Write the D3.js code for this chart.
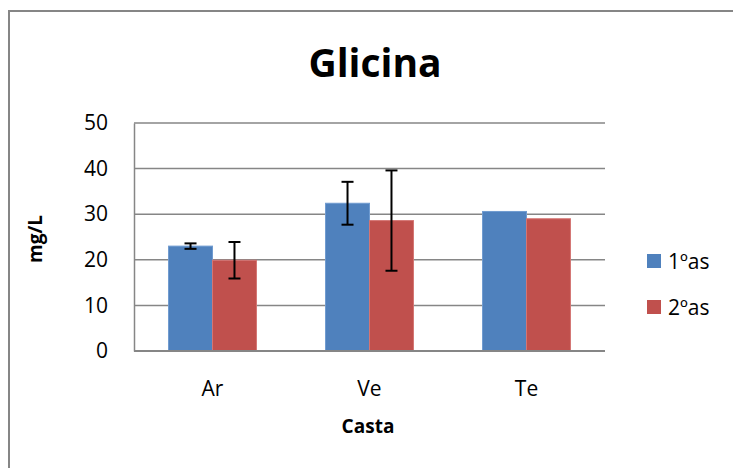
<!DOCTYPE html>
<html><head><meta charset="utf-8">
<script src="https://cdn.jsdelivr.net/npm/d3@7"></script>
<style>body{margin:0;background:#fff}svg{display:block}text{font-family:"Open Sans",sans-serif}</style>
</head><body><svg id="c" width="733" height="468"></svg>
<script>
const categories = ["Ar", "Ve", "Te"];
const seriesNames = ["1ºas", "2ºas"];
const values1 = [23.0, 32.4, 30.6];
const errors1 = [0.6, 4.7, 0];
const values2 = [19.9, 28.6, 29.0];
const errors2 = [4.0, 11.0, 0];
const yTicks = [0, 10, 20, 30, 40, 50];
const colors = ["#4F81BD", "#C0504D"];
const strokes = ["#6F9BD0", "#D47573"];

const svg = d3.select("#c");
svg.append("path").attr("d","M9,468V11H733").attr("fill","none").attr("stroke","#868686").attr("stroke-width",2);

const m = {l:134, r:605, t:123, b:351};
const x = d3.scaleBand().domain(categories).range([m.l, m.r]).paddingInner(0.44).paddingOuter(0.22);
const y = d3.scaleLinear().domain([0,50]).range([m.b, m.t]);
const xs = d3.scaleBand().domain([0,1]).range([0, x.bandwidth()]);

svg.append("g").selectAll("line").data(yTicks).join("line")
  .attr("x1", m.l).attr("x2", m.r).attr("y1", d=>y(d)).attr("y2", d=>y(d))
  .attr("stroke","#868686").attr("stroke-width",1.5);
const ya = svg.append("g").attr("transform",`translate(${m.l},0)`)
  .call(d3.axisLeft(y).tickValues(yTicks).tickSize(0).tickPadding(26));
ya.select(".domain").attr("stroke","#868686").attr("stroke-width",1.5);
ya.selectAll("text").attr("font-size",21).attr("fill","#000").attr("font-family","'Open Sans',sans-serif");

const data = [values1, values2], errs = [errors1, errors2];
data.forEach((vals, si) => {
  svg.append("g").selectAll("rect").data(vals).join("rect")
    .attr("x",(d,i)=>x(categories[i])+xs(si)).attr("width",xs.bandwidth())
    .attr("y",d=>y(d)).attr("height",d=>y(0)-y(d))
    .attr("fill",colors[si]).attr("stroke",strokes[si]).attr("stroke-width",1);
});
svg.append("line").attr("x1",m.l).attr("x2",m.r).attr("y1",m.b).attr("y2",m.b).attr("stroke","#868686").attr("stroke-width",2);

data.forEach((vals, si) => {
  const g = svg.append("g").attr("stroke","#000").attr("stroke-width",2);
  vals.forEach((v,i)=>{
    const e = errs[si][i]; if(!e) return;
    const cx = x(categories[i])+xs(si)+xs.bandwidth()/2;
    g.append("line").attr("x1",cx).attr("x2",cx).attr("y1",y(v+e)).attr("y2",y(v-e));
    [v+e, v-e].forEach(t=>g.append("line").attr("x1",cx-6).attr("x2",cx+6).attr("y1",y(t)).attr("y2",y(t)));
  });
});

svg.append("g").selectAll("text").data(categories).join("text")
  .attr("x",d=>x(d)+x.bandwidth()/2).attr("y",396).attr("text-anchor","middle")
  .attr("font-size",21).text(d=>d);

svg.append("text").attr("x",375).attr("y",77).attr("text-anchor","middle").attr("font-size",39).attr("font-weight","bold").text("Glicina");
svg.append("text").attr("x",368).attr("y",433).attr("text-anchor","middle").attr("font-size",19).attr("font-weight","bold").text("Casta");
svg.append("text").attr("transform","translate(42,239) rotate(-90)").attr("text-anchor","middle").attr("font-size",19).attr("font-weight","bold").text("mg/L");

const lg = svg.append("g").selectAll("g").data(seriesNames).join("g")
  .attr("transform",(d,i)=>`translate(647,${254+i*46})`);
lg.append("rect").attr("width",14).attr("height",14).attr("fill",(d,i)=>colors[i]);
lg.append("text").attr("x",21).attr("y",15).attr("font-size",21).text(d=>d);
</script></body></html>
